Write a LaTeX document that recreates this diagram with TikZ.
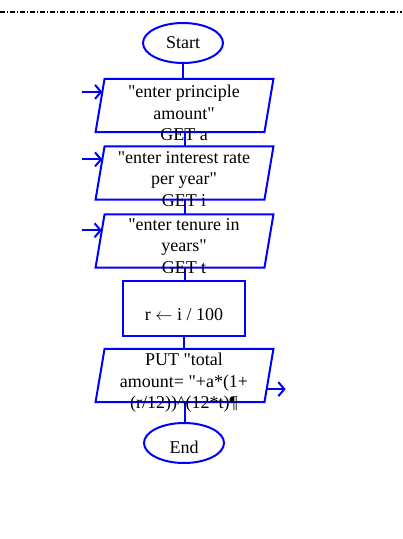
\documentclass[tikz,border=0pt]{standalone}
\usepackage{fontspec}
\setmainfont{Liberation Serif}[Ligatures=TeXOff]
\usetikzlibrary{shapes.geometric,arrows.meta,calc}
\definecolor{fcblue}{RGB}{0,0,255}
% draws a right-leaning parallelogram around an (invisible) box node #1, slant 4.5bp each side
\newcommand\drawparallel[1]{%
  \coordinate (#1-bl) at ($(#1.south west)+(-4.5,0)$);
  \coordinate (#1-tl) at ($(#1.north west)+(4.5,0)$);
  \coordinate (#1-tr) at ($(#1.north east)+(4.5,0)$);
  \coordinate (#1-br) at ($(#1.south east)+(-4.5,0)$);
  \draw[shapeline] (#1-bl) -- (#1-tl) -- (#1-tr) -- (#1-br) -- cycle;}
\begin{document}
\begin{tikzpicture}[x=1bp,y=-1bp,
  shapeline/.style={draw=fcblue,line width=2bp},
  term/.style={shapeline,ellipse,minimum width=80bp,minimum height=40bp,inner sep=0pt},
  iobox/.style={rectangle,minimum width=168.5bp,minimum height=53bp,inner sep=0pt},
  proc/.style={shapeline,rectangle,minimum width=122bp,minimum height=55bp,inner sep=0pt},
  lbl/.style={font=\fontsize{18bp}{21.5bp}\selectfont,align=center,inner sep=0pt,text=black},
  flow/.style={draw=fcblue,line width=2bp},
  arr/.style={flow,-{Straight Barb[length=6bp,width=14bp]}},
  sepline/.style={draw=black,line width=1.5bp,dash pattern=on 4.5bp off 2bp on 1.5bp off 2bp}
]
\useasboundingbox (0,0) rectangle (402,539);
\draw[sepline] (0,12) -- (402,12);

% shapes
\node[term] (start) at (183,43) {};
\node[iobox] (p1) at (184.5,105.5) {};
\node[iobox] (p2) at (184.5,173) {};
\node[iobox] (p3) at (184.5,241) {};
\node[proc] (r) at (184,308.5) {};
\node[iobox] (p4) at (184.5,375.5) {};
\node[term] (end) at (184,443) {};
\drawparallel{p1}
\drawparallel{p2}
\drawparallel{p3}
\drawparallel{p4}

% connectors
\draw[flow] (start.south) -- (start.south |- p1.north);
\draw[flow] (p1.south) -- (p2.north);
\draw[flow] (p2.south) -- (p3.north);
\draw[flow] (p3.south) -- (r.north -| p3.south);
\draw[flow] (r.south) -- (r.south |- p4.north);
\draw[flow] (p4.south) -- (p4.south |- end.north);

% input / output arrows
\coordinate (e1) at ($(p1-bl)!0.755!(p1-tl)$);
\coordinate (e2) at ($(p2-bl)!0.755!(p2-tl)$);
\coordinate (e3) at ($(p3-bl)!0.7!(p3-tl)$);
\coordinate (e4) at ($(p4-br)!0.245!(p4-tr)$);
\path (e1) ++(-20,0) coordinate (in1);
\path (e2) ++(-20,0) coordinate (in2);
\path (e3) ++(-20,0) coordinate (in3);
\path (e4) ++(19,0) coordinate (out4);
\draw[arr] (in1) -- (e1);
\draw[arr] (in2) -- (e2);
\draw[arr] (in3) -- (e3);
\draw[arr] (e4) -- (out4);

% texts
\node[lbl,anchor=base] (tstart) at (183,49) {Start};
\node[lbl] (t1) at (184,113) {"enter principle\\amount"\\GET a};
\node[lbl] (t2) at (184,179) {"enter interest rate\\per year"\\GET i};
\node[lbl] (t3) at (184,246) {"enter tenure in\\years"\\GET t};
\node[lbl,anchor=base] (tr) at (184,320) {r $\leftarrow$ i / 100};
\node[lbl] (t4) at (184,382.7) {PUT "total\\amount= "+a*(1+\\(r/12))\textasciicircum(12*t)¶};
\node[lbl,anchor=base] (tend) at (184,453) {End};
\end{tikzpicture}
\end{document}
